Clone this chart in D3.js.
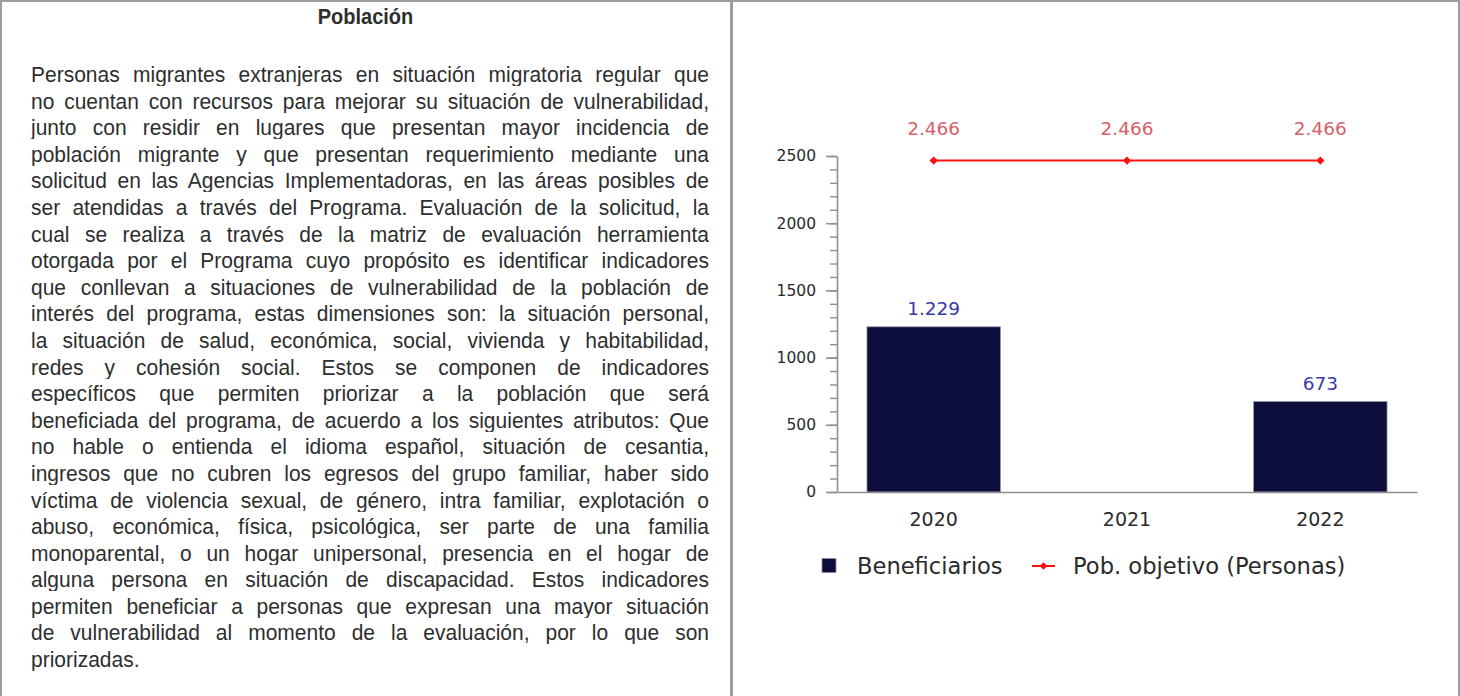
<!DOCTYPE html>
<html>
<head>
<meta charset="utf-8">
<script src="https://cdn.jsdelivr.net/npm/d3@7"></script>
<style>
  body { margin: 0; background: #fff; }
  #page { position: relative; width: 1460px; height: 696px; overflow: hidden; }
  .frame { position: absolute; border: 2px solid #9d9d9d; border-bottom: none; box-sizing: border-box; }
  #title { position: absolute; left: 0; width: 731px; top: 5px; text-align: center;
           font: bold 20px "Liberation Sans", Arial, sans-serif; color: #2e2e2e;
           transform: scaleY(1.08); }
  #body { position: absolute; left: 31px; top: 61px; width: 678px;
          font: 21px "Liberation Sans", Arial, sans-serif; color: #2e2e2e; line-height: 26.6px; }
  #body div { text-align: justify; text-align-last: justify; white-space: nowrap; transform: scaleY(1.08); }
  #body div.last { text-align-last: left; }
  #chart { position: absolute; left: 0; top: 0; }
</style>
</head>
<body>
<div id="page">
  <div class="frame" style="left:0;top:0;width:733px;height:700px"></div>
  <div class="frame" style="left:730px;top:0;width:730px;height:700px"></div>
  <div id="title">Población</div>
  <div id="body"></div>
  <svg id="chart" width="1460" height="696"></svg>
</div>
<script>
var lines = [
  'Personas migrantes extranjeras en situación migratoria regular que',
  'no cuentan con recursos para mejorar su situación de vulnerabilidad,',
  'junto con residir en lugares que presentan mayor incidencia de',
  'población migrante y que presentan requerimiento mediante una',
  'solicitud en las Agencias Implementadoras, en las áreas posibles de',
  'ser atendidas a través del Programa. Evaluación de la solicitud, la',
  'cual se realiza a través de la matriz de evaluación herramienta',
  'otorgada por el Programa cuyo propósito es identificar indicadores',
  'que conllevan a situaciones de vulnerabilidad de la población de',
  'interés del programa, estas dimensiones son: la situación personal,',
  'la situación de salud, económica, social, vivienda y habitabilidad,',
  'redes y cohesión social. Estos se componen de indicadores',
  'específicos que permiten priorizar a la población que será',
  'beneficiada del programa, de acuerdo a los siguientes atributos: Que',
  'no hable o entienda el idioma español, situación de cesantia,',
  'ingresos que no cubren los egresos del grupo familiar, haber sido',
  'víctima de violencia sexual, de género, intra familiar, explotación o',
  'abuso, económica, física, psicológica, ser parte de una familia',
  'monoparental, o un hogar unipersonal, presencia en el hogar de',
  'alguna persona en situación de discapacidad. Estos indicadores',
  'permiten beneficiar a personas que expresan una mayor situación',
  'de vulnerabilidad al momento de la evaluación, por lo que son',
  'priorizadas.'
];

var years = ['2020', '2021', '2022'];
var beneficiarios = [1229, null, 673];
var objetivo = [2466, 2466, 2466];
var yTicks = [0, 500, 1000, 1500, 2000, 2500];
var seriesNames = ['Beneficiarios', 'Pob. objetivo (Personas)'];

var barColor = '#0c0d3a',
    lineColor = '#ff1010',
    axisColor = '#8f8f8f';

var fmt = d3.formatLocale({ decimal: ',', thousands: '.', grouping: [3], currency: ['$', ''] }).format(',d');

var boxWidth = 678;
d3.select('#body').selectAll('div')
  .data(lines)
  .enter()
  .append('div')
  .attr('class', function(d, i) { return i === lines.length - 1 ? 'last' : null; })
  .text(function(d) { return d; })
  .each(function(d) {
    // shrink a line only if it does not fit the box
    var m = document.createElement('span');
    m.style.whiteSpace = 'nowrap';
    m.textContent = d;
    document.getElementById('body').appendChild(m);
    var w = m.getBoundingClientRect().width;
    m.remove();
    if (w > boxWidth) d3.select(this).style('font-size', (21 * boxWidth / w - 0.05) + 'px');
  });

var svg = d3.select('#chart');
var fontFam = '"DejaVu Sans", sans-serif';

var x = d3.scaleBand().domain(years).range([837, 1417]).paddingInner(0.31).paddingOuter(0.155);
var y = d3.scaleLinear().domain([0, 2500]).range([492, 156]);

// minor ticks every 100
svg.append('g')
  .attr('transform', 'translate(837,0)')
  .call(d3.axisLeft(y).tickValues(d3.range(0, 2501, 100)).tickSize(7).tickFormat(''))
  .call(function(g) {
    g.select('.domain').remove();
    g.selectAll('line').attr('stroke', axisColor).attr('stroke-width', 1.4);
  });

var yAxis = svg.append('g')
  .attr('transform', 'translate(837,0)')
  .call(d3.axisLeft(y).tickValues(yTicks).tickSize(11).tickSizeOuter(0).tickPadding(10)
          .tickFormat(d3.format('d')));
yAxis.selectAll('line').attr('stroke', axisColor).attr('stroke-width', 1.6);
yAxis.select('.domain').attr('stroke', axisColor).attr('stroke-width', 1.6);
yAxis.selectAll('text').attr('font-family', fontFam).attr('font-size', 15.5).attr('fill', '#2a2a2a');

var barData = years.map(function(yr, i) { return { year: yr, v: beneficiarios[i] }; })
                   .filter(function(d) { return d.v != null; });

// bars
svg.selectAll('.bar')
  .data(barData)
  .enter()
  .append('rect')
  .attr('class', 'bar')
  .attr('x', function(d) { return x(d.year); })
  .attr('y', function(d) { return y(d.v); })
  .attr('width', x.bandwidth())
  .attr('height', function(d) { return y(0) - y(d.v); })
  .attr('fill', barColor)
  .attr('stroke', '#9090a4')
  .attr('stroke-width', 0.8);

svg.selectAll('.barlab')
  .data(barData)
  .enter()
  .append('text')
  .attr('x', function(d) { return x(d.year) + x.bandwidth() / 2; })
  .attr('y', function(d) { return y(d.v) - 12; })
  .attr('text-anchor', 'middle')
  .attr('font-family', fontFam)
  .attr('font-size', 18.5)
  .attr('fill', '#3a3aa6')
  .text(function(d) { return fmt(d.v); });

var xAxis = svg.append('g')
  .attr('transform', 'translate(0,492)')
  .call(d3.axisBottom(x).tickSize(0).tickPadding(21));
xAxis.select('.domain').attr('stroke', axisColor).attr('stroke-width', 1.6);
xAxis.selectAll('text').attr('font-family', fontFam).attr('font-size', 19).attr('fill', '#2a2a2a');

// target line
var pts = years.map(function(yr, i) { return { year: yr, v: objetivo[i] }; });
var cx = function(d) { return x(d.year) + x.bandwidth() / 2; };

svg.append('path')
  .datum(pts)
  .attr('fill', 'none')
  .attr('stroke', lineColor)
  .attr('stroke-width', 2)
  .attr('d', d3.line().x(cx).y(function(d) { return y(d.v); }));

svg.selectAll('.mark')
  .data(pts)
  .enter()
  .append('path')
  .attr('d', d3.symbol().type(d3.symbolSquare).size(34))
  .attr('transform', function(d) { return 'translate(' + cx(d) + ',' + y(d.v) + ') rotate(45)'; })
  .attr('fill', lineColor);

svg.selectAll('.linelab')
  .data(pts)
  .enter()
  .append('text')
  .attr('x', cx)
  .attr('y', function(d) { return y(d.v) - 26; })
  .attr('text-anchor', 'middle')
  .attr('font-family', fontFam)
  .attr('font-size', 18.5)
  .attr('fill', '#d6606a')
  .text(function(d) { return fmt(d.v); });

// legend
var legend = svg.append('g').attr('transform', 'translate(822,566)');
legend.append('rect')
  .attr('x', 0).attr('y', -7.5).attr('width', 14).attr('height', 14)
  .attr('fill', barColor).attr('stroke', '#9090a4').attr('stroke-width', 0.8);
legend.append('text')
  .attr('x', 35).attr('y', 0).attr('dy', '0.36em')
  .attr('font-family', fontFam).attr('font-size', 22.6).attr('fill', '#2a2a2a')
  .text(seriesNames[0]);
legend.append('line')
  .attr('x1', 210).attr('x2', 233).attr('y1', 0).attr('y2', 0)
  .attr('stroke', lineColor).attr('stroke-width', 2);
legend.append('path')
  .attr('d', d3.symbol().type(d3.symbolSquare).size(30))
  .attr('transform', 'translate(221.5,0) rotate(45)')
  .attr('fill', lineColor);
legend.append('text')
  .attr('x', 251).attr('y', 0).attr('dy', '0.36em')
  .attr('font-family', fontFam).attr('font-size', 22.6).attr('fill', '#2a2a2a')
  .text(seriesNames[1]);
</script>
</body>
</html>
